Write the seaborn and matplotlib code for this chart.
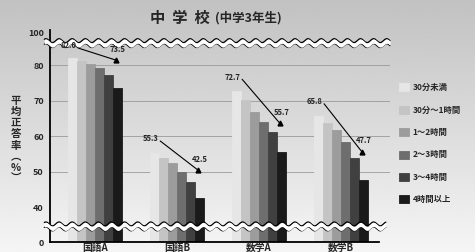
import numpy as np
import pandas as pd
import seaborn as sns
import matplotlib.pyplot as plt

# data
subjects = ['国語A', '国語B', '数学A', '数学B']
study_time = ['30分未満', '30分～1時間', '1～2時間', '2～3時間', '3～4時間', '4時間以上']
kokugo_a = [82.0, 81.3, 80.5, 79.2, 77.2, 73.5]
kokugo_b = [55.3, 53.8, 52.4, 50.0, 47.2, 42.5]
sugaku_a = [72.7, 70.3, 67.0, 64.0, 61.2, 55.7]
sugaku_b = [65.8, 63.8, 61.8, 58.3, 54.0, 47.7]
ytick_labels = ['0', '40', '50', '60', '70', '80', '100']
bar_colors = ['#e6e6e6', '#c4c4c4', '#9c9c9c', '#6e6e6e', '#404040', '#1a1a1a']

df = pd.DataFrame({
    'subject': np.repeat(subjects, len(study_time)),
    'time': study_time * len(subjects),
    'score': kokugo_a + kokugo_b + sugaku_a + sugaku_b,
})

sns.set_theme(style='white')
plt.rcParams['font.family'] = ['Noto Sans CJK JP', 'DejaVu Sans']

fig = plt.figure(figsize=(4.75, 2.52), dpi=100)

# halftone-ish background: grey at top fading out
bg = fig.add_axes([0, 0, 1, 1], zorder=-5)
grad = np.linspace(0.76, 0.96, 100).reshape(-1, 1)
bg.imshow(grad, cmap='gray', vmin=0, vmax=1, aspect='auto', extent=[0, 1, 0, 1])
bg.axis('off')

ax = fig.add_axes([50 / 475, 10 / 252, 340 / 475, 212 / 252])
ax.set_facecolor('none')

width = 0.66
sns.barplot(data=df, x='subject', y='score', hue='time', palette=bar_colors,
            width=width, gap=0, ax=ax, zorder=2, saturation=1)
for p in ax.patches:
    p.set_edgecolor(p.get_facecolor())
    p.set_linewidth(0.6)

# pseudo scale with broken axis: 0 and 100 squeezed in
y0, y100 = 30.2, 89.2
ax.set_ylim(y0, 90)
ax.set_xlim(-0.55, 3.6)
ax.set_yticks([y0, 40, 50, 60, 70, 80, y100])
ax.set_yticklabels(ytick_labels, fontsize=6.5, fontweight='bold')
for gy in [50, 60, 70, 80]:
    ax.axhline(gy, color='#9a9a9a', lw=0.6, zorder=1)

ax.set_xticks(range(len(subjects)))
ax.set_xticklabels(subjects, fontsize=7, fontweight='bold')
ax.set_xticks(np.arange(len(subjects)) + 0.47, minor=True)
ax.tick_params(axis='x', which='major', length=0, pad=1)
ax.tick_params(axis='x', which='minor', length=5, direction='inout', width=0.8, color='black')
ax.tick_params(axis='y', length=7, direction='inout', width=1.0, color='black', pad=1)
ax.set_xlabel('')
ax.set_ylabel('')
for side in ['top', 'right']:
    ax.spines[side].set_visible(False)
ax.spines['left'].set_color('black')
ax.spines['bottom'].set_color('black')
ax.spines['left'].set_linewidth(1.3)
ax.spines['bottom'].set_linewidth(1.3)
ax.spines['bottom'].set_bounds(-0.55, 3.47)

# wavy break marks
def wave(ypos, x1, x2):
    xs = np.linspace(x1, x2, 400)
    ys = ypos + 0.55 * np.sin(xs / 0.16 * 2 * np.pi)
    ax.plot(xs, ys + 0.7, color='black', lw=0.9, zorder=5, clip_on=False)
    ax.plot(xs, ys - 0.7, color='black', lw=0.9, zorder=5, clip_on=False)
    ax.fill_between(xs, ys - 0.6, ys + 0.6, color='white', zorder=6, clip_on=False, lw=0)

wave(86.3, -0.62, 3.6)
wave(34.6, -0.62, 3.55)

# first / last value annotations
n = len(study_time)
for i, vals in enumerate([kokugo_a, kokugo_b, sugaku_a, sugaku_b]):
    x_first = i - width / 2 + 0.5 * width / n
    x_last = i - width / 2 + (n - 0.5) * width / n
    y_first = min(vals[0] + 4, 85.5)
    ax.text(x_first - 0.05, y_first, f'{vals[0]:.1f}', fontsize=5.5, fontweight='bold',
            ha='center', va='center', zorder=7)
    ax.text(x_last, vals[-1] + 11, f'{vals[-1]:.1f}', fontsize=5.5, fontweight='bold',
            ha='center', va='center', zorder=7)
    ax.plot([x_first + 0.07, x_last - 0.02], [y_first - 0.6, vals[-1] + 8],
            color='black', lw=0.8, zorder=7)
    ax.plot(x_last - 0.02, vals[-1] + 8, marker='^', color='black', ms=3.5, zorder=7)

# legend on the right
handles, labels = ax.get_legend_handles_labels()
ax.get_legend().remove()
fig.legend(handles, labels, loc='upper left', bbox_to_anchor=(396 / 475, 1 - 80 / 252),
           frameon=False, handlelength=1.1, handleheight=1.1,
           labelspacing=1.6, handletextpad=0.5, borderaxespad=0,
           prop={'weight': 'bold', 'size': 6})

# title and y label
fig.text(210 / 475, 1 - 18 / 252, '中  学  校', fontsize=11, fontweight='bold',
         ha='right', va='center')
fig.text(215 / 475, 1 - 18 / 252, '(中学3年生)', fontsize=9, fontweight='bold',
         ha='left', va='center')
fig.text(16 / 475, 1 - 140 / 252, '平\n均\n正\n答\n率\n︵\n%\n︶', fontsize=7.5,
         fontweight='bold', ha='center', va='center', linespacing=1.15)

fig.savefig('out.png', dpi=100)
